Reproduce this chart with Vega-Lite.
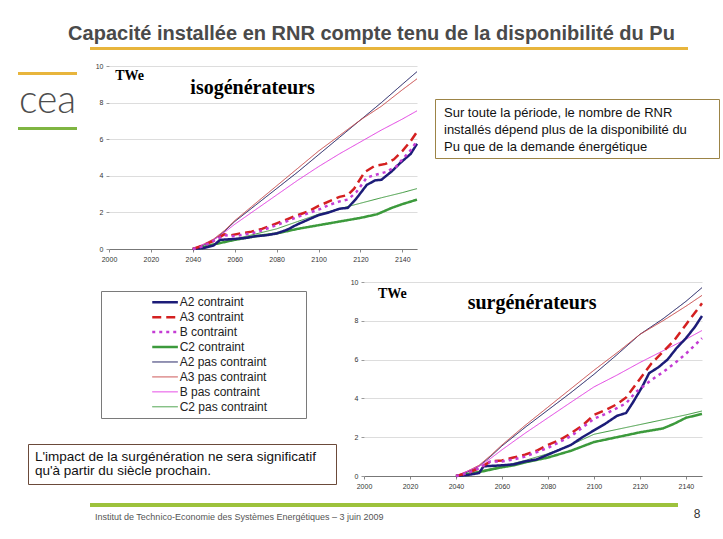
{
"$schema": "https://vega.github.io/schema/vega-lite/v6.json",
"background": "white",
"padding": 0,
"config": {"view": {"stroke": null}, "font": "Liberation Sans", "concat": {"spacing": 0}, "axis": {"labelOverlap": false, "labelFlush": false}},
"datasets": {
"legend": [{"s":"A2 contraint"},{"s":"A3 contraint"},{"s":"B contraint"},{"s":"C2 contraint"},{"s":"A2 pas contraint"},{"s":"A3 pas contraint"},{"s":"B pas contraint"},{"s":"C2 pas contraint"}],
"iso": [
{"s":"A2 pas contraint","t":2040,"v":0},{"s":"A2 pas contraint","t":2045,"v":0.2},{"s":"A2 pas contraint","t":2050,"v":0.5},{"s":"A2 pas contraint","t":2055,"v":0.95},{"s":"A2 pas contraint","t":2060,"v":1.5},{"s":"A2 pas contraint","t":2070,"v":2.4},{"s":"A2 pas contraint","t":2080,"v":3.3},{"s":"A2 pas contraint","t":2090,"v":4.2},{"s":"A2 pas contraint","t":2100,"v":5.15},{"s":"A2 pas contraint","t":2110,"v":6.1},{"s":"A2 pas contraint","t":2120,"v":7.05},{"s":"A2 pas contraint","t":2130,"v":8.0},{"s":"A2 pas contraint","t":2140,"v":9.0},{"s":"A2 pas contraint","t":2147,"v":9.69},
{"s":"A3 pas contraint","t":2040,"v":0},{"s":"A3 pas contraint","t":2045,"v":0.25},{"s":"A3 pas contraint","t":2050,"v":0.55},{"s":"A3 pas contraint","t":2055,"v":1.0},{"s":"A3 pas contraint","t":2060,"v":1.55},{"s":"A3 pas contraint","t":2070,"v":2.5},{"s":"A3 pas contraint","t":2080,"v":3.45},{"s":"A3 pas contraint","t":2090,"v":4.4},{"s":"A3 pas contraint","t":2100,"v":5.35},{"s":"A3 pas contraint","t":2110,"v":6.2},{"s":"A3 pas contraint","t":2120,"v":7.05},{"s":"A3 pas contraint","t":2130,"v":7.8},{"s":"A3 pas contraint","t":2140,"v":8.7},{"s":"A3 pas contraint","t":2147,"v":9.3},
{"s":"B pas contraint","t":2040,"v":0},{"s":"B pas contraint","t":2045,"v":0.25},{"s":"B pas contraint","t":2050,"v":0.5},{"s":"B pas contraint","t":2055,"v":0.9},{"s":"B pas contraint","t":2060,"v":1.35},{"s":"B pas contraint","t":2070,"v":2.15},{"s":"B pas contraint","t":2080,"v":2.95},{"s":"B pas contraint","t":2090,"v":3.75},{"s":"B pas contraint","t":2100,"v":4.5},{"s":"B pas contraint","t":2110,"v":5.2},{"s":"B pas contraint","t":2120,"v":5.85},{"s":"B pas contraint","t":2130,"v":6.5},{"s":"B pas contraint","t":2140,"v":7.1},{"s":"B pas contraint","t":2147,"v":7.55},
{"s":"C2 pas contraint","t":2040,"v":0},{"s":"C2 pas contraint","t":2045,"v":0.1},{"s":"C2 pas contraint","t":2050,"v":0.25},{"s":"C2 pas contraint","t":2060,"v":0.55},{"s":"C2 pas contraint","t":2070,"v":0.82},{"s":"C2 pas contraint","t":2080,"v":1.1},{"s":"C2 pas contraint","t":2090,"v":1.5},{"s":"C2 pas contraint","t":2100,"v":1.9},{"s":"C2 pas contraint","t":2110,"v":2.2},{"s":"C2 pas contraint","t":2120,"v":2.5},{"s":"C2 pas contraint","t":2130,"v":2.8},{"s":"C2 pas contraint","t":2140,"v":3.08},{"s":"C2 pas contraint","t":2147,"v":3.3},
{"s":"C2 contraint","t":2040,"v":0},{"s":"C2 contraint","t":2045,"v":0.1},{"s":"C2 contraint","t":2050,"v":0.25},{"s":"C2 contraint","t":2060,"v":0.5},{"s":"C2 contraint","t":2070,"v":0.7},{"s":"C2 contraint","t":2080,"v":0.85},{"s":"C2 contraint","t":2090,"v":1.1},{"s":"C2 contraint","t":2100,"v":1.3},{"s":"C2 contraint","t":2110,"v":1.5},{"s":"C2 contraint","t":2120,"v":1.7},{"s":"C2 contraint","t":2128,"v":1.9},{"s":"C2 contraint","t":2135,"v":2.25},{"s":"C2 contraint","t":2140,"v":2.45},{"s":"C2 contraint","t":2147,"v":2.7},
{"s":"A2 contraint","t":2040,"v":0},{"s":"A2 contraint","t":2045,"v":0.05},{"s":"A2 contraint","t":2050,"v":0.2},{"s":"A2 contraint","t":2053,"v":0.5},{"s":"A2 contraint","t":2060,"v":0.55},{"s":"A2 contraint","t":2065,"v":0.6},{"s":"A2 contraint","t":2070,"v":0.7},{"s":"A2 contraint","t":2075,"v":0.75},{"s":"A2 contraint","t":2080,"v":0.85},{"s":"A2 contraint","t":2085,"v":1.05},{"s":"A2 contraint","t":2090,"v":1.35},{"s":"A2 contraint","t":2095,"v":1.6},{"s":"A2 contraint","t":2100,"v":1.85},{"s":"A2 contraint","t":2105,"v":2.0},{"s":"A2 contraint","t":2110,"v":2.2},{"s":"A2 contraint","t":2114,"v":2.25},{"s":"A2 contraint","t":2118,"v":2.75},{"s":"A2 contraint","t":2123,"v":3.5},{"s":"A2 contraint","t":2127,"v":3.75},{"s":"A2 contraint","t":2130,"v":3.78},{"s":"A2 contraint","t":2135,"v":4.25},{"s":"A2 contraint","t":2139,"v":4.7},{"s":"A2 contraint","t":2144,"v":5.2},{"s":"A2 contraint","t":2147,"v":5.75},
{"s":"A3 contraint","t":2040,"v":0},{"s":"A3 contraint","t":2045,"v":0.2},{"s":"A3 contraint","t":2050,"v":0.45},{"s":"A3 contraint","t":2055,"v":0.8},{"s":"A3 contraint","t":2058,"v":0.75},{"s":"A3 contraint","t":2063,"v":0.85},{"s":"A3 contraint","t":2068,"v":0.95},{"s":"A3 contraint","t":2073,"v":1.1},{"s":"A3 contraint","t":2080,"v":1.4},{"s":"A3 contraint","t":2090,"v":1.85},{"s":"A3 contraint","t":2095,"v":2.05},{"s":"A3 contraint","t":2100,"v":2.35},{"s":"A3 contraint","t":2105,"v":2.6},{"s":"A3 contraint","t":2110,"v":2.85},{"s":"A3 contraint","t":2114,"v":2.95},{"s":"A3 contraint","t":2117,"v":3.3},{"s":"A3 contraint","t":2122,"v":4.2},{"s":"A3 contraint","t":2127,"v":4.55},{"s":"A3 contraint","t":2132,"v":4.65},{"s":"A3 contraint","t":2136,"v":4.9},{"s":"A3 contraint","t":2140,"v":5.35},{"s":"A3 contraint","t":2144,"v":5.9},{"s":"A3 contraint","t":2147,"v":6.4},
{"s":"B contraint","t":2040,"v":0},{"s":"B contraint","t":2045,"v":0.15},{"s":"B contraint","t":2050,"v":0.45},{"s":"B contraint","t":2055,"v":0.75},{"s":"B contraint","t":2060,"v":0.7},{"s":"B contraint","t":2065,"v":0.8},{"s":"B contraint","t":2070,"v":0.9},{"s":"B contraint","t":2080,"v":1.3},{"s":"B contraint","t":2090,"v":1.75},{"s":"B contraint","t":2100,"v":2.15},{"s":"B contraint","t":2105,"v":2.4},{"s":"B contraint","t":2110,"v":2.6},{"s":"B contraint","t":2114,"v":2.7},{"s":"B contraint","t":2118,"v":3.1},{"s":"B contraint","t":2123,"v":3.9},{"s":"B contraint","t":2127,"v":4.05},{"s":"B contraint","t":2132,"v":4.2},{"s":"B contraint","t":2137,"v":4.5},{"s":"B contraint","t":2140,"v":4.9},{"s":"B contraint","t":2144,"v":5.4},{"s":"B contraint","t":2147,"v":5.9}
],
"sur": [
{"s":"A2 pas contraint","t":2040,"v":0},{"s":"A2 pas contraint","t":2045,"v":0.2},{"s":"A2 pas contraint","t":2050,"v":0.5},{"s":"A2 pas contraint","t":2055,"v":1.0},{"s":"A2 pas contraint","t":2060,"v":1.55},{"s":"A2 pas contraint","t":2070,"v":2.5},{"s":"A2 pas contraint","t":2080,"v":3.4},{"s":"A2 pas contraint","t":2090,"v":4.3},{"s":"A2 pas contraint","t":2100,"v":5.24},{"s":"A2 pas contraint","t":2110,"v":6.25},{"s":"A2 pas contraint","t":2120,"v":7.3},{"s":"A2 pas contraint","t":2130,"v":8.1},{"s":"A2 pas contraint","t":2140,"v":9.0},{"s":"A2 pas contraint","t":2147,"v":9.71},
{"s":"A3 pas contraint","t":2040,"v":0},{"s":"A3 pas contraint","t":2045,"v":0.25},{"s":"A3 pas contraint","t":2050,"v":0.55},{"s":"A3 pas contraint","t":2055,"v":1.05},{"s":"A3 pas contraint","t":2060,"v":1.6},{"s":"A3 pas contraint","t":2070,"v":2.6},{"s":"A3 pas contraint","t":2080,"v":3.55},{"s":"A3 pas contraint","t":2090,"v":4.5},{"s":"A3 pas contraint","t":2100,"v":5.45},{"s":"A3 pas contraint","t":2110,"v":6.35},{"s":"A3 pas contraint","t":2120,"v":7.3},{"s":"A3 pas contraint","t":2130,"v":8.0},{"s":"A3 pas contraint","t":2140,"v":8.75},{"s":"A3 pas contraint","t":2147,"v":9.31},
{"s":"B pas contraint","t":2040,"v":0},{"s":"B pas contraint","t":2045,"v":0.25},{"s":"B pas contraint","t":2050,"v":0.5},{"s":"B pas contraint","t":2055,"v":0.9},{"s":"B pas contraint","t":2060,"v":1.35},{"s":"B pas contraint","t":2070,"v":2.2},{"s":"B pas contraint","t":2080,"v":3.0},{"s":"B pas contraint","t":2090,"v":3.8},{"s":"B pas contraint","t":2100,"v":4.59},{"s":"B pas contraint","t":2110,"v":5.2},{"s":"B pas contraint","t":2120,"v":5.85},{"s":"B pas contraint","t":2130,"v":6.45},{"s":"B pas contraint","t":2140,"v":7.05},{"s":"B pas contraint","t":2147,"v":7.5},
{"s":"C2 pas contraint","t":2040,"v":0},{"s":"C2 pas contraint","t":2045,"v":0.1},{"s":"C2 pas contraint","t":2050,"v":0.25},{"s":"C2 pas contraint","t":2060,"v":0.5},{"s":"C2 pas contraint","t":2070,"v":0.8},{"s":"C2 pas contraint","t":2080,"v":1.15},{"s":"C2 pas contraint","t":2090,"v":1.6},{"s":"C2 pas contraint","t":2100,"v":2.15},{"s":"C2 pas contraint","t":2110,"v":2.4},{"s":"C2 pas contraint","t":2120,"v":2.65},{"s":"C2 pas contraint","t":2130,"v":2.9},{"s":"C2 pas contraint","t":2140,"v":3.15},{"s":"C2 pas contraint","t":2147,"v":3.35},
{"s":"C2 contraint","t":2040,"v":0},{"s":"C2 contraint","t":2045,"v":0.1},{"s":"C2 contraint","t":2050,"v":0.2},{"s":"C2 contraint","t":2060,"v":0.45},{"s":"C2 contraint","t":2065,"v":0.55},{"s":"C2 contraint","t":2070,"v":0.7},{"s":"C2 contraint","t":2080,"v":0.95},{"s":"C2 contraint","t":2090,"v":1.3},{"s":"C2 contraint","t":2100,"v":1.75},{"s":"C2 contraint","t":2110,"v":2.0},{"s":"C2 contraint","t":2120,"v":2.25},{"s":"C2 contraint","t":2130,"v":2.45},{"s":"C2 contraint","t":2135,"v":2.7},{"s":"C2 contraint","t":2140,"v":3.0},{"s":"C2 contraint","t":2147,"v":3.2},
{"s":"A2 contraint","t":2040,"v":0},{"s":"A2 contraint","t":2045,"v":0.05},{"s":"A2 contraint","t":2050,"v":0.15},{"s":"A2 contraint","t":2052,"v":0.5},{"s":"A2 contraint","t":2060,"v":0.55},{"s":"A2 contraint","t":2065,"v":0.6},{"s":"A2 contraint","t":2070,"v":0.75},{"s":"A2 contraint","t":2075,"v":0.85},{"s":"A2 contraint","t":2080,"v":1.1},{"s":"A2 contraint","t":2085,"v":1.35},{"s":"A2 contraint","t":2090,"v":1.6},{"s":"A2 contraint","t":2095,"v":2.0},{"s":"A2 contraint","t":2100,"v":2.35},{"s":"A2 contraint","t":2105,"v":2.7},{"s":"A2 contraint","t":2110,"v":3.1},{"s":"A2 contraint","t":2114,"v":3.25},{"s":"A2 contraint","t":2117,"v":3.8},{"s":"A2 contraint","t":2121,"v":4.6},{"s":"A2 contraint","t":2124,"v":5.3},{"s":"A2 contraint","t":2128,"v":5.6},{"s":"A2 contraint","t":2132,"v":6.0},{"s":"A2 contraint","t":2136,"v":6.6},{"s":"A2 contraint","t":2140,"v":7.1},{"s":"A2 contraint","t":2144,"v":7.7},{"s":"A2 contraint","t":2147,"v":8.25},
{"s":"A3 contraint","t":2040,"v":0},{"s":"A3 contraint","t":2045,"v":0.15},{"s":"A3 contraint","t":2050,"v":0.4},{"s":"A3 contraint","t":2055,"v":0.75},{"s":"A3 contraint","t":2060,"v":0.8},{"s":"A3 contraint","t":2065,"v":0.95},{"s":"A3 contraint","t":2070,"v":1.1},{"s":"A3 contraint","t":2075,"v":1.3},{"s":"A3 contraint","t":2080,"v":1.6},{"s":"A3 contraint","t":2085,"v":1.85},{"s":"A3 contraint","t":2090,"v":2.2},{"s":"A3 contraint","t":2095,"v":2.6},{"s":"A3 contraint","t":2100,"v":3.15},{"s":"A3 contraint","t":2105,"v":3.4},{"s":"A3 contraint","t":2110,"v":3.7},{"s":"A3 contraint","t":2114,"v":4.05},{"s":"A3 contraint","t":2120,"v":5.0},{"s":"A3 contraint","t":2125,"v":5.8},{"s":"A3 contraint","t":2130,"v":6.4},{"s":"A3 contraint","t":2135,"v":7.0},{"s":"A3 contraint","t":2140,"v":7.8},{"s":"A3 contraint","t":2147,"v":8.9},
{"s":"B contraint","t":2040,"v":0},{"s":"B contraint","t":2045,"v":0.15},{"s":"B contraint","t":2050,"v":0.4},{"s":"B contraint","t":2055,"v":0.75},{"s":"B contraint","t":2060,"v":0.75},{"s":"B contraint","t":2065,"v":0.85},{"s":"B contraint","t":2070,"v":1.0},{"s":"B contraint","t":2080,"v":1.45},{"s":"B contraint","t":2090,"v":2.05},{"s":"B contraint","t":2100,"v":2.95},{"s":"B contraint","t":2105,"v":3.2},{"s":"B contraint","t":2110,"v":3.5},{"s":"B contraint","t":2114,"v":3.75},{"s":"B contraint","t":2118,"v":4.3},{"s":"B contraint","t":2125,"v":4.95},{"s":"B contraint","t":2130,"v":5.35},{"s":"B contraint","t":2135,"v":5.8},{"s":"B contraint","t":2140,"v":6.3},{"s":"B contraint","t":2147,"v":7.1}
]
},
"spacing": 0,
"bounds": "full",
"vconcat": [
{"spacing": 0, "bounds": "full", "vconcat": [
  {"width": 723, "height": 47, "data": {"values": [{"t": "Capacité installée en RNR compte tenu de la disponibilité du Pu"}]}, "mark": {"type": "text", "fontSize": 20, "fontWeight": "bold", "color": "#4a4a4a", "baseline": "alphabetic", "dx": 10, "dy": 16.5}, "encoding": {"text": {"field": "t"}}},
  {"spacing": 0, "bounds": "flush", "hconcat": [
    {"width": 90, "height": 3, "data": {"values": []}, "mark": "point"},
    {"width": 598, "height": 3, "data": {"values": []}, "mark": "point", "view": {"fill": "#E8B53C", "stroke": null}}
  ]},
  {"width": 723, "height": 10, "data": {"values": []}, "mark": "point"}
]},
{"spacing": 0, "bounds": "full", "hconcat": [
  {"width": 18, "height": 1, "data": {"values": []}, "mark": "point"},
  {"spacing": 0, "bounds": "flush", "vconcat": [
    {"width": 59, "height": 12, "data": {"values": []}, "mark": "point"},
    {"width": 59, "height": 3, "data": {"values": []}, "mark": "point", "view": {"fill": "#E8B53C", "stroke": null}},
    {"width": 59, "height": 52, "data": {"values": [{"t": "cea"}]}, "mark": {"type": "text", "font": "Lato", "fontWeight": 300, "fontSize": 39, "color": "#4d4d4d", "baseline": "alphabetic", "dy": 12}, "encoding": {"text": {"field": "t"}}},
    {"width": 59, "height": 3, "data": {"values": []}, "mark": "point", "view": {"fill": "#7FB541", "stroke": null}}
  ]},
  {"width": 18, "height": 1, "data": {"values": []}, "mark": "point"},
  {"spacing": 0, "bounds": "flush", "vconcat": [
    {"width": 308, "height": 6, "data": {"values": []}, "mark": "point"},
    {"width": 308, "height": 183,
     "layer": [
      {"data": {"name": "iso"}, "transform": [{"filter": "indexof(datum.s, 'pas') >= 0"}], "mark": {"type": "line", "strokeWidth": 1},
       "encoding": {
        "x": {"field": "t", "type": "quantitative", "scale": {"domain": [2000, 2147], "nice": false, "zero": false}, "axis": {"values": [2000,2020,2040,2060,2080,2100,2120,2140], "format": "d", "title": null, "grid": false, "labelFontSize": 7, "labelColor": "#333", "tickSize": 3, "tickColor": "#888", "domainColor": "#777", "labelPadding": 3, "labelFlush": false, "labelOverlap": false}},
        "y": {"field": "v", "type": "quantitative", "scale": {"domain": [0, 10], "nice": false}, "axis": {"values": [0,2,4,6,8,10], "title": null, "grid": true, "gridColor": "#dddddd", "domain": false, "tickSize": 3, "tickColor": "#999", "labelFontSize": 7, "labelColor": "#333", "labelPadding": 3, "labelOverlap": false}},
        "color": {"field": "s", "type": "nominal", "legend": null, "scale": {"domain": ["A2 contraint","A3 contraint","B contraint","C2 contraint","A2 pas contraint","A3 pas contraint","B pas contraint","C2 pas contraint"], "range": ["#1c1c78","#d42020","#c43cd4","#3c9a3c","#14145a","#c84646","#e23ce2","#3f9a3f"]}},
        "strokeDash": {"field": "s", "type": "nominal", "legend": null, "scale": {"domain": ["A2 contraint","A3 contraint","B contraint","C2 contraint","A2 pas contraint","A3 pas contraint","B pas contraint","C2 pas contraint"], "range": [[1,0],[9,5],[3,4],[1,0],[1,0],[1,0],[1,0],[1,0]]}}
       }},
      {"data": {"name": "iso"}, "transform": [{"filter": "indexof(datum.s, 'pas') < 0"}], "mark": {"type": "line", "strokeWidth": 2.5},
       "encoding": {
        "x": {"field": "t", "type": "quantitative", "axis": {"values": [2000,2020,2040,2060,2080,2100,2120,2140], "format": "d", "title": null, "grid": false, "labelFontSize": 7, "labelColor": "#333", "tickSize": 3, "tickColor": "#888", "domainColor": "#777", "labelPadding": 3, "labelFlush": false, "labelOverlap": false}},
        "y": {"field": "v", "type": "quantitative", "axis": {"values": [0,2,4,6,8,10], "title": null, "grid": true, "gridColor": "#dddddd", "domain": false, "tickSize": 3, "tickColor": "#999", "labelFontSize": 7, "labelColor": "#333", "labelPadding": 3, "labelOverlap": false}},
        "color": {"field": "s", "type": "nominal", "legend": null},
        "strokeDash": {"field": "s", "type": "nominal", "legend": null}
       }},
      {"data": {"values": [{"label": "TWe"}]}, "mark": {"type": "text", "font": "Liberation Serif", "fontWeight": "bold", "fontSize": 14, "align": "left", "baseline": "middle", "color": "#000"},
       "encoding": {
        "x": {"datum": 2003, "type": "quantitative", "axis": {"values": [2000,2020,2040,2060,2080,2100,2120,2140], "format": "d", "title": null, "grid": false, "labelFontSize": 7, "labelColor": "#333", "tickSize": 3, "tickColor": "#888", "domainColor": "#777", "labelPadding": 3, "labelFlush": false, "labelOverlap": false}},
        "y": {"datum": 9.45, "type": "quantitative", "axis": {"values": [0,2,4,6,8,10], "title": null, "grid": true, "gridColor": "#dddddd", "domain": false, "tickSize": 3, "tickColor": "#999", "labelFontSize": 7, "labelColor": "#333", "labelPadding": 3, "labelOverlap": false}},
        "text": {"field": "label"}}},
      {"data": {"values": [{"label": "isogénérateurs"}]}, "mark": {"type": "text", "font": "Liberation Serif", "fontWeight": "bold", "fontSize": 20, "align": "center", "baseline": "middle", "color": "#000"},
       "encoding": {
        "x": {"datum": 2068.5, "type": "quantitative", "axis": {"values": [2000,2020,2040,2060,2080,2100,2120,2140], "format": "d", "title": null, "grid": false, "labelFontSize": 7, "labelColor": "#333", "tickSize": 3, "tickColor": "#888", "domainColor": "#777", "labelPadding": 3, "labelFlush": false, "labelOverlap": false}},
        "y": {"datum": 8.8, "type": "quantitative", "axis": {"values": [0,2,4,6,8,10], "title": null, "grid": true, "gridColor": "#dddddd", "domain": false, "tickSize": 3, "tickColor": "#999", "labelFontSize": 7, "labelColor": "#333", "labelPadding": 3, "labelOverlap": false}},
        "text": {"field": "label"}}}
    ]}
  ]},
  {"width": 12, "height": 1, "data": {"values": []}, "mark": "point"},
  {"spacing": 0, "bounds": "flush", "vconcat": [
    {"width": 284, "height": 39, "data": {"values": []}, "mark": "point"},
    {"width": 284, "height": 59, "view": {"stroke": "#9C8446", "strokeWidth": 1},
     "data": {"values": [{"line": "Sur toute la période, le nombre de RNR"}, {"line": "installés dépend plus de la disponibilité du"}, {"line": "Pu que de la demande énergétique"}]},
     "mark": {"type": "text", "align": "left", "baseline": "middle", "fontSize": 13, "color": "#111", "dx": 9, "dy": 1.5},
     "encoding": {"x": {"datum": 0, "scale": {"domain": [0, 1]}, "axis": null}, "y": {"field": "line", "type": "nominal", "sort": null, "scale": {"type": "point", "padding": 0.74}, "axis": null}, "text": {"field": "line"}}}
  ]}
]},
{"spacing": 0, "bounds": "full", "hconcat": [
  {"width": 27, "height": 1, "data": {"values": []}, "mark": "point"},
  {"spacing": 0, "bounds": "full", "vconcat": [
    {"width": 308, "height": 28, "data": {"values": []}, "mark": "point"},
    {"spacing": 0, "bounds": "flush", "hconcat": [
      {"width": 73, "height": 1, "data": {"values": []}, "mark": "point"},
      {"width": 205, "height": 127, "view": {"stroke": "#7a7a7a", "strokeWidth": 1}, "data": {"name": "legend"},
       "layer": [
        {"transform": [{"filter": "indexof(datum.s, 'pas') < 0"}], "mark": {"type": "rule", "strokeWidth": 2.5}, "encoding": {
          "x": {"datum": 0, "scale": {"domain": [-1.679, 5.643]}, "axis": null}, "x2": {"datum": 1},
          "y": {"field": "s", "type": "nominal", "scale": {"type": "point", "domain": ["A2 contraint","A3 contraint","B contraint","C2 contraint","A2 pas contraint","A3 pas contraint","B pas contraint","C2 pas contraint"], "padding": 0.75}, "axis": null},
          "color": {"field": "s", "type": "nominal", "legend": null, "scale": {"domain": ["A2 contraint","A3 contraint","B contraint","C2 contraint","A2 pas contraint","A3 pas contraint","B pas contraint","C2 pas contraint"], "range": ["#1c1c78","#d42020","#c43cd4","#3c9a3c","#14145a","#c84646","#e23ce2","#3f9a3f"]}},
          "strokeDash": {"field": "s", "type": "nominal", "legend": null, "scale": {"domain": ["A2 contraint","A3 contraint","B contraint","C2 contraint","A2 pas contraint","A3 pas contraint","B pas contraint","C2 pas contraint"], "range": [[1,0],[9,5],[3,4],[1,0],[1,0],[1,0],[1,0],[1,0]]}}
        }},
        {"transform": [{"filter": "indexof(datum.s, 'pas') >= 0"}], "mark": {"type": "rule", "strokeWidth": 1}, "encoding": {
          "x": {"datum": 0, "axis": null}, "x2": {"datum": 1},
          "y": {"field": "s", "type": "nominal", "axis": null},
          "color": {"field": "s", "type": "nominal", "legend": null},
          "strokeDash": {"field": "s", "type": "nominal", "legend": null}
        }},
        {"mark": {"type": "text", "align": "left", "baseline": "middle", "fontSize": 12, "color": "#222"}, "encoding": {"x": {"datum": 1.07, "axis": null}, "y": {"field": "s", "type": "nominal", "axis": null}, "text": {"field": "s"}}}
      ]}
    ]},
    {"width": 308, "height": 24, "data": {"values": []}, "mark": "point"},
    {"width": 308, "height": 40, "view": {"stroke": "#6B4A3A", "strokeWidth": 1},
     "data": {"values": [{"line": "L'impact de la surgénération ne sera significatif"}, {"line": "qu'à partir du siècle prochain."}]},
     "mark": {"type": "text", "align": "left", "baseline": "middle", "fontSize": 13.5, "color": "#111", "dx": 7},
     "encoding": {"x": {"datum": 0, "scale": {"domain": [0, 1]}, "axis": null}, "y": {"field": "line", "type": "nominal", "sort": null, "scale": {"type": "point", "padding": 0.93}, "axis": null}, "text": {"field": "line"}}}
  ]},
  {"width": 13, "height": 1, "data": {"values": []}, "mark": "point"},
  {"spacing": 0, "bounds": "flush", "vconcat": [
    {"width": 338, "height": 20, "data": {"values": []}, "mark": "point"},
    {"width": 338, "height": 194,
     "layer": [
      {"data": {"name": "sur"}, "transform": [{"filter": "indexof(datum.s, 'pas') >= 0"}], "mark": {"type": "line", "strokeWidth": 1},
       "encoding": {
        "x": {"field": "t", "type": "quantitative", "scale": {"domain": [2000, 2147], "nice": false, "zero": false}, "axis": {"values": [2000,2020,2040,2060,2080,2100,2120,2140], "format": "d", "title": null, "grid": false, "labelFontSize": 7, "labelColor": "#333", "tickSize": 3, "tickColor": "#888", "domainColor": "#777", "labelPadding": 3, "labelFlush": false, "labelOverlap": false}},
        "y": {"field": "v", "type": "quantitative", "scale": {"domain": [0, 10], "nice": false}, "axis": {"values": [0,2,4,6,8,10], "title": null, "grid": true, "gridColor": "#dddddd", "domain": false, "tickSize": 3, "tickColor": "#999", "labelFontSize": 7, "labelColor": "#333", "labelPadding": 3, "labelOverlap": false}},
        "color": {"field": "s", "type": "nominal", "legend": null, "scale": {"domain": ["A2 contraint","A3 contraint","B contraint","C2 contraint","A2 pas contraint","A3 pas contraint","B pas contraint","C2 pas contraint"], "range": ["#1c1c78","#d42020","#c43cd4","#3c9a3c","#14145a","#c84646","#e23ce2","#3f9a3f"]}},
        "strokeDash": {"field": "s", "type": "nominal", "legend": null, "scale": {"domain": ["A2 contraint","A3 contraint","B contraint","C2 contraint","A2 pas contraint","A3 pas contraint","B pas contraint","C2 pas contraint"], "range": [[1,0],[9,5],[3,4],[1,0],[1,0],[1,0],[1,0],[1,0]]}}
       }},
      {"data": {"name": "sur"}, "transform": [{"filter": "indexof(datum.s, 'pas') < 0"}], "mark": {"type": "line", "strokeWidth": 2.5},
       "encoding": {
        "x": {"field": "t", "type": "quantitative", "axis": {"values": [2000,2020,2040,2060,2080,2100,2120,2140], "format": "d", "title": null, "grid": false, "labelFontSize": 7, "labelColor": "#333", "tickSize": 3, "tickColor": "#888", "domainColor": "#777", "labelPadding": 3, "labelFlush": false, "labelOverlap": false}},
        "y": {"field": "v", "type": "quantitative", "axis": {"values": [0,2,4,6,8,10], "title": null, "grid": true, "gridColor": "#dddddd", "domain": false, "tickSize": 3, "tickColor": "#999", "labelFontSize": 7, "labelColor": "#333", "labelPadding": 3, "labelOverlap": false}},
        "color": {"field": "s", "type": "nominal", "legend": null},
        "strokeDash": {"field": "s", "type": "nominal", "legend": null}
       }},
      {"data": {"values": [{"label": "TWe"}]}, "mark": {"type": "text", "font": "Liberation Serif", "fontWeight": "bold", "fontSize": 14, "align": "left", "baseline": "middle", "color": "#000"},
       "encoding": {
        "x": {"datum": 2006.1, "type": "quantitative", "axis": {"values": [2000,2020,2040,2060,2080,2100,2120,2140], "format": "d", "title": null, "grid": false, "labelFontSize": 7, "labelColor": "#333", "tickSize": 3, "tickColor": "#888", "domainColor": "#777", "labelPadding": 3, "labelFlush": false, "labelOverlap": false}},
        "y": {"datum": 9.38, "type": "quantitative", "axis": {"values": [0,2,4,6,8,10], "title": null, "grid": true, "gridColor": "#dddddd", "domain": false, "tickSize": 3, "tickColor": "#999", "labelFontSize": 7, "labelColor": "#333", "labelPadding": 3, "labelOverlap": false}},
        "text": {"field": "label"}}},
      {"data": {"values": [{"label": "surgénérateurs"}]}, "mark": {"type": "text", "font": "Liberation Serif", "fontWeight": "bold", "fontSize": 20, "align": "center", "baseline": "middle", "color": "#000"},
       "encoding": {
        "x": {"datum": 2073.1, "type": "quantitative", "axis": {"values": [2000,2020,2040,2060,2080,2100,2120,2140], "format": "d", "title": null, "grid": false, "labelFontSize": 7, "labelColor": "#333", "tickSize": 3, "tickColor": "#888", "domainColor": "#777", "labelPadding": 3, "labelFlush": false, "labelOverlap": false}},
        "y": {"datum": 8.92, "type": "quantitative", "axis": {"values": [0,2,4,6,8,10], "title": null, "grid": true, "gridColor": "#dddddd", "domain": false, "tickSize": 3, "tickColor": "#999", "labelFontSize": 7, "labelColor": "#333", "labelPadding": 3, "labelOverlap": false}},
        "text": {"field": "label"}}}
    ]}
  ]}
]},
{"spacing": 0, "bounds": "full", "vconcat": [
  {"width": 1, "height": 14, "data": {"values": []}, "mark": "point"},
  {"spacing": 0, "bounds": "flush", "hconcat": [
    {"width": 90, "height": 4, "data": {"values": []}, "mark": "point"},
    {"width": 588, "height": 4, "data": {"values": []}, "mark": "point", "view": {"fill": "#9DC23C", "stroke": null}}
  ]},
  {"spacing": 0, "bounds": "flush", "hconcat": [
    {"width": 95, "height": 20, "data": {"values": []}, "mark": "point"},
    {"width": 597, "height": 20, "data": {"values": [{"t": "Institut de Technico-Economie des Systèmes Energétiques – 3 juin 2009"}]}, "mark": {"type": "text", "align": "left", "baseline": "middle", "font": "Liberation Sans", "fontSize": 9, "color": "#555"}, "encoding": {"x": {"datum": 0, "scale": {"domain": [0, 1]}, "axis": null}, "text": {"field": "t"}}},
    {"width": 10, "height": 20, "data": {"values": [{"t": "8"}]}, "mark": {"type": "text", "align": "center", "baseline": "middle", "fontSize": 12, "color": "#333", "dy": -3}, "encoding": {"text": {"field": "t"}}}
  ]},
  {"width": 1, "height": 12, "data": {"values": []}, "mark": "point"}
]}
]
}
